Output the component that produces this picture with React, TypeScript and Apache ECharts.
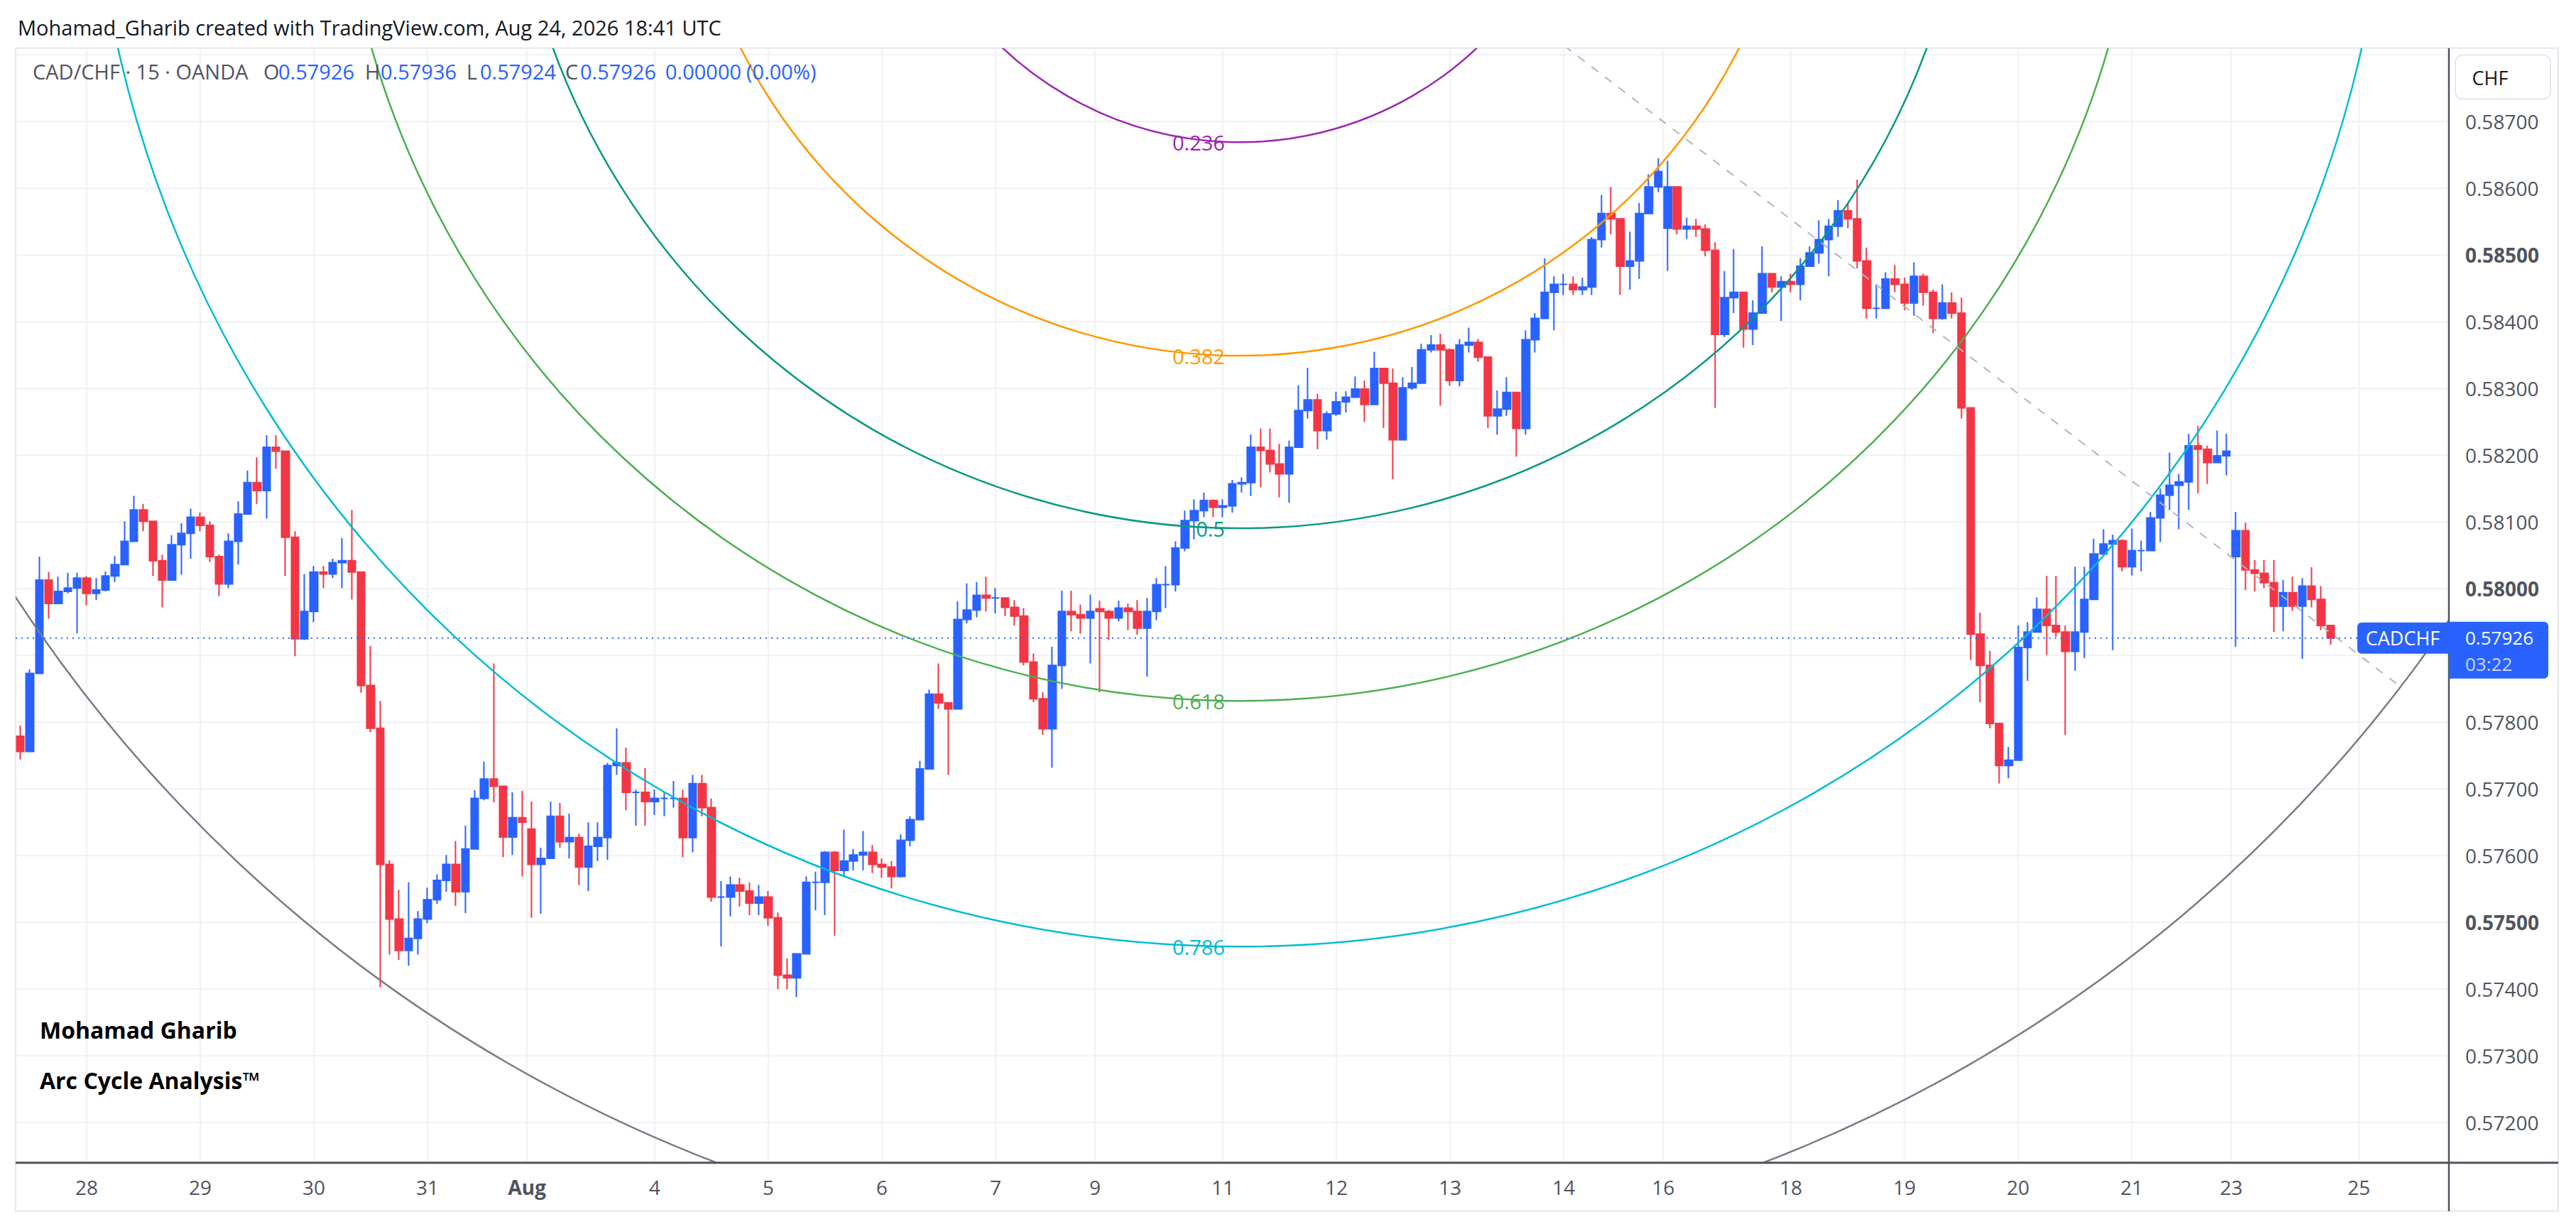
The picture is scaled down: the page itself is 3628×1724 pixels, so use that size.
import React, { useEffect, useRef } from "react";
import * as echarts from "echarts";

const WIDTH = 3628;
const HEIGHT = 1724;
const FONT = '"Open Sans", "Noto Sans", sans-serif';
const UP = "#2962ff";
const DOWN = "#f23645";
const AXIS_TEXT = "#50535e";
const GRID_COLOR = "#f0f1f4";

// 2-hour candles, each [high, low, close]
const weekOfJul27: number[][] = [
  [0.57795, 0.57744, 0.57756], [0.57879, 0.57777, 0.57873], [0.58048, 0.57961, 0.58013], [0.58025, 0.57955, 0.57978],
  [0.58018, 0.57984, 0.57996], [0.58024, 0.57993, 0.58001], [0.58024, 0.57933, 0.58016], [0.58019, 0.57975, 0.57993],
  [0.58016, 0.57983, 0.57998], [0.58026, 0.57996, 0.58019], [0.58049, 0.5801, 0.58036], [0.58101, 0.58042, 0.58071],
  [0.58139, 0.58092, 0.58118], [0.58127, 0.58086, 0.58101], [0.58101, 0.58019, 0.58042], [0.58051, 0.57972, 0.58013],
  [0.5808, 0.58016, 0.58066], [0.58098, 0.58021, 0.58083], [0.5812, 0.58045, 0.58107], [0.58114, 0.58086, 0.58095],
  [0.58101, 0.5804, 0.58048], [0.58051, 0.57989, 0.58007], [0.58083, 0.58001, 0.58071], [0.58131, 0.58036, 0.58112],
  [0.58177, 0.58112, 0.58159], [0.58197, 0.58127, 0.58147], [0.5823, 0.58105, 0.58212], [0.5823, 0.5818, 0.58206],
  [0.58206, 0.58019, 0.58077], [0.58086, 0.57899, 0.57925], [0.58022, 0.57923, 0.57966], [0.58034, 0.5795, 0.58025],
  [0.58034, 0.58001, 0.58022], [0.58045, 0.58016, 0.58039], [0.58076, 0.58001, 0.58042], [0.58118, 0.57984, 0.58025],
  [0.58025, 0.57844, 0.57855], [0.57914, 0.57785, 0.57791], [0.57832, 0.57403, 0.57587], [0.57593, 0.57452, 0.57505],
  [0.57549, 0.57444, 0.57458], [0.5756, 0.57435, 0.57476], [0.57517, 0.57452, 0.57505], [0.57552, 0.57499, 0.57534],
  [0.57572, 0.57528, 0.57563], [0.57601, 0.57546, 0.57587], [0.57622, 0.57525, 0.57546], [0.57645, 0.57514, 0.5761],
  [0.57698, 0.5761, 0.57686], [0.57741, 0.57683, 0.57715], [0.57888, 0.5768, 0.57704], [0.57704, 0.57598, 0.57628],
  [0.57695, 0.57601, 0.57657], [0.57697, 0.57569, 0.5765],
];

const weekOfAug3: number[][] = [
  [0.57681, 0.57507, 0.57587], [0.57612, 0.57513, 0.57596], [0.57681, 0.57605, 0.57659], [0.57679, 0.57612, 0.57621],
  [0.57663, 0.57596, 0.57627], [0.57633, 0.57556, 0.57583], [0.5765, 0.57547, 0.57614], [0.5765, 0.57592, 0.57627],
  [0.57739, 0.57594, 0.57735], [0.57791, 0.57721, 0.57739], [0.57762, 0.57668, 0.57695], [0.57699, 0.57645, 0.57695],
  [0.57731, 0.57645, 0.57681], [0.57699, 0.57661, 0.57686], [0.57695, 0.57659, 0.57686], [0.57712, 0.57672, 0.57686],
  [0.57699, 0.57598, 0.57627], [0.57721, 0.57605, 0.57708], [0.57721, 0.57659, 0.57672], [0.57686, 0.57531, 0.57538],
  [0.57562, 0.57464, 0.57538], [0.57569, 0.57509, 0.57556], [0.57567, 0.57524, 0.57547], [0.5756, 0.57511, 0.57529],
  [0.57556, 0.57511, 0.57538], [0.57547, 0.57495, 0.57507], [0.57515, 0.574, 0.57421], [0.57446, 0.574, 0.57417],
  [0.57453, 0.57388, 0.57453], [0.57569, 0.57453, 0.5756], [0.57576, 0.57518, 0.5756], [0.57607, 0.57511, 0.57605],
  [0.57607, 0.5748, 0.57578], [0.57639, 0.57569, 0.57592], [0.5761, 0.57578, 0.57601], [0.57637, 0.57578, 0.57605],
  [0.57616, 0.57574, 0.57587], [0.57596, 0.57567, 0.57583], [0.57592, 0.57551, 0.57569], [0.57632, 0.57567, 0.57623],
  [0.57659, 0.57614, 0.57654], [0.57742, 0.57663, 0.5773], [0.57849, 0.57739, 0.57842], [0.57888, 0.5782, 0.57829],
  [0.57824, 0.57721, 0.5782], [0.57981, 0.5782, 0.57954], [0.58008, 0.57948, 0.57968], [0.5801, 0.57957, 0.5799],
  [0.58018, 0.57966, 0.57986], [0.58001, 0.57963, 0.57986], [0.57986, 0.57959, 0.57972], [0.57983, 0.57945, 0.57959],
  [0.57971, 0.57885, 0.5789], [0.57903, 0.5783, 0.57835], [0.57845, 0.57781, 0.5779], [0.57913, 0.57732, 0.57885],
  [0.57997, 0.5785, 0.57966], [0.57997, 0.57936, 0.57961], [0.57976, 0.57933, 0.57956], [0.57991, 0.57888, 0.57966],
];

const weekOfAug10: number[][] = [
  [0.57982, 0.57845, 0.57966], [0.57968, 0.57923, 0.57956], [0.57982, 0.57951, 0.57971], [0.57978, 0.57938, 0.57966],
  [0.57983, 0.57931, 0.57941], [0.57986, 0.57868, 0.57966], [0.58016, 0.57953, 0.58006], [0.58034, 0.57971, 0.58006],
  [0.58071, 0.57996, 0.58061], [0.58117, 0.58056, 0.58102], [0.58134, 0.58074, 0.58117], [0.58144, 0.58107, 0.58132],
  [0.58134, 0.58107, 0.58122], [0.58134, 0.58107, 0.58124], [0.58163, 0.58114, 0.58157], [0.58167, 0.58144, 0.58159],
  [0.58231, 0.58139, 0.58212], [0.5824, 0.58152, 0.58207], [0.5824, 0.58174, 0.58187], [0.58217, 0.58137, 0.58172],
  [0.58222, 0.58129, 0.58212], [0.58305, 0.58222, 0.58267], [0.58331, 0.58255, 0.58283], [0.58292, 0.58209, 0.58237],
  [0.58266, 0.58223, 0.58262], [0.58295, 0.58259, 0.5828], [0.58296, 0.58264, 0.58287], [0.58318, 0.58291, 0.58299],
  [0.58312, 0.5825, 0.58276], [0.58355, 0.58312, 0.5833], [0.5833, 0.58241, 0.58308], [0.5833, 0.58164, 0.58223],
  [0.58317, 0.5823, 0.58301], [0.58332, 0.58298, 0.58308], [0.58367, 0.58312, 0.58358], [0.5838, 0.58354, 0.58365],
  [0.58382, 0.58274, 0.58358], [0.5836, 0.58304, 0.58312], [0.58374, 0.58303, 0.58365], [0.58391, 0.58354, 0.58369],
  [0.58374, 0.5834, 0.58347], [0.58333, 0.58241, 0.58259], [0.58297, 0.58231, 0.58269], [0.58317, 0.58259, 0.58294],
  [0.58287, 0.58198, 0.5824], [0.58387, 0.58231, 0.58373], [0.58413, 0.58354, 0.58405], [0.58495, 0.58409, 0.58444],
  [0.58468, 0.58387, 0.58456], [0.58472, 0.5844, 0.58456], [0.58468, 0.5844, 0.58448], [0.58466, 0.5844, 0.58452],
  [0.58527, 0.5844, 0.58523], [0.5859, 0.58511, 0.58562], [0.58602, 0.58531, 0.58554], [0.58543, 0.5844, 0.58483],
  [0.58535, 0.58448, 0.58491], [0.58578, 0.58464, 0.58562], [0.58621, 0.58574, 0.58602], [0.58645, 0.58594, 0.58625],
];

const weekOfAug17: number[][] = [
  [0.58641, 0.58476, 0.58602], [0.58598, 0.58531, 0.58539], [0.58556, 0.58524, 0.58543], [0.58554, 0.58527, 0.58539],
  [0.58546, 0.58498, 0.58507], [0.58519, 0.58271, 0.58381], [0.58476, 0.58377, 0.58436], [0.58509, 0.58413, 0.58444],
  [0.5844, 0.58361, 0.58389], [0.58432, 0.58365, 0.58413], [0.58513, 0.5842, 0.58472], [0.58472, 0.58444, 0.58452],
  [0.58468, 0.58401, 0.5846], [0.58472, 0.58444, 0.58456], [0.58495, 0.58432, 0.58483], [0.58513, 0.58487, 0.58503],
  [0.58552, 0.58487, 0.58523], [0.58554, 0.58468, 0.58543], [0.58582, 0.58527, 0.58566], [0.58578, 0.5854, 0.58554],
  [0.58613, 0.5848, 0.58491], [0.58511, 0.58405, 0.5842], [0.58456, 0.58405, 0.5842], [0.58474, 0.58428, 0.58464],
  [0.58485, 0.58444, 0.58456], [0.58466, 0.58417, 0.58428], [0.58489, 0.58409, 0.58468], [0.58472, 0.58424, 0.58444],
  [0.58448, 0.58383, 0.58405], [0.58456, 0.58403, 0.58428], [0.58444, 0.58405, 0.58413], [0.58436, 0.58255, 0.58271],
  [0.58271, 0.57893, 0.57932], [0.57964, 0.5783, 0.57885], [0.57907, 0.57791, 0.57798], [0.57791, 0.57708, 0.57735],
  [0.57763, 0.57716, 0.57743], [0.57945, 0.5775, 0.57912], [0.5795, 0.57862, 0.57935], [0.57987, 0.57935, 0.57969],
  [0.58019, 0.57901, 0.57945], [0.58019, 0.57928, 0.57935], [0.57945, 0.57781, 0.57906], [0.58033, 0.57877, 0.57935],
  [0.58033, 0.57896, 0.57984], [0.58075, 0.57994, 0.58052], [0.58089, 0.58055, 0.58067], [0.58081, 0.57908, 0.58072],
  [0.58074, 0.58026, 0.58033], [0.5809, 0.5802, 0.58057], [0.58072, 0.58026, 0.58057], [0.58115, 0.58082, 0.58106],
  [0.5815, 0.5807, 0.5814], [0.58204, 0.58118, 0.58155], [0.58172, 0.58089, 0.5816], [0.58232, 0.58118, 0.58214],
  [0.58244, 0.58143, 0.58209], [0.58214, 0.58157, 0.58189], [0.58237, 0.58189, 0.58199], [0.58232, 0.5817, 0.58206],
];

const weekOfAug24: number[][] = [
  [0.58115, 0.57913, 0.58087], [0.58099, 0.57998, 0.58028], [0.58043, 0.57996, 0.58023], [0.58043, 0.58001, 0.58009],
  [0.58043, 0.57935, 0.57974], [0.58013, 0.57936, 0.57994], [0.58018, 0.57967, 0.57974], [0.58016, 0.57895, 0.58004],
  [0.58032, 0.57972, 0.57984], [0.58004, 0.57938, 0.57945], [0.57943, 0.57916, 0.57926],
];

const firstOpen = 0.57779;
const sessionOpens: [string, number][] = [
  ["08-02 21:00", 0.5764],
  ["08-09 21:00", 0.5797],
  ["08-16 21:00", 0.5854],
  ["08-23 21:00", 0.58048],
];
const futureSlots = 12;

// grid lines every 0.001; labels hidden where the reference's price tag / currency box covers them
const priceGridLines = [0.572, 0.573, 0.574, 0.575, 0.576, 0.577, 0.578, 0.579, 0.58, 0.581, 0.582, 0.583, 0.584, 0.585, 0.586, 0.587, 0.588];
const priceLabels = [0.572, 0.573, 0.574, 0.575, 0.576, 0.577, 0.578, 0.58, 0.581, 0.582, 0.583, 0.584, 0.585, 0.586, 0.587];
const boldPrices = [0.575, 0.58, 0.585];
const Y_MIN = 0.5714;
const Y_MAX = 0.5881;

const xLabels: [string, string][] = [
  ["07-27 23:00", "28"], ["07-28 23:00", "29"], ["07-29 23:00", "30"], ["07-30 23:00", "31"],
  ["08-02 21:00", "Aug"], ["08-03 23:00", "4"], ["08-04 23:00", "5"], ["08-05 23:00", "6"], ["08-06 23:00", "7"],
  ["08-09 21:00", "9"], ["08-10 23:00", "11"], ["08-11 23:00", "12"], ["08-12 23:00", "13"], ["08-13 23:00", "14"],
  ["08-16 21:00", "16"], ["08-17 23:00", "18"], ["08-18 23:00", "19"], ["08-19 23:00", "20"], ["08-20 23:00", "21"],
  ["08-23 21:00", "23"], ["08-24 23:00", "25"],
];
const boldXLabels = ["Aug"];

const fibLevels = [0.236, 0.382, 0.5, 0.618, 0.786, 1];
const fibColors = ["#9c27b0", "#ff9800", "#089981", "#4caf50", "#00bcd4", "#787b86"];
const arcCenter: [number, number] = [128.8, 0.59186];
const arcEdge: [number, number] = [251.4, 0.57853];

const titleText = "Mohamad_Gharib created with TradingView.com, Aug 24, 2026 18:41 UTC";
const symbolText = "CAD/CHF · 15 · OANDA";
const ohlcLetters = ["O", "H", "L", "C"];
const ohlcValues = ["0.57926", "0.57936", "0.57924", "0.57926"];
const changeTexts = ["0.00000", "(0.00%)"];
const symbolName = "CADCHF";
const countdown = "03:22";
const currencyText = "CHF";
const authorLines = ["Mohamad Gharib", "Arc Cycle Analysis™"];

function pad(n: number) {
  return n < 10 ? "0" + n : String(n);
}

function buildCategories(count: number): string[] {
  const out: string[] = [];
  let t = Date.UTC(2026, 6, 27, 9, 0);
  while (out.length < count) {
    const d = new Date(t);
    out.push(`${pad(d.getUTCMonth() + 1)}-${pad(d.getUTCDate())} ${pad(d.getUTCHours())}:00`);
    t += 2 * 3600e3;
    const n = new Date(t);
    if (n.getUTCDay() === 5 && n.getUTCHours() >= 21) t += 48 * 3600e3;
  }
  return out;
}

const allHLC = [...weekOfJul27, ...weekOfAug3, ...weekOfAug10, ...weekOfAug17, ...weekOfAug24];
const categories = buildCategories(allHLC.length + futureSlots);
const openMap = new Map(sessionOpens);
const candleData = allHLC.map(([h, l, c], i) => {
  const o = i === 0 ? firstOpen : openMap.get(categories[i]) ?? allHLC[i - 1][2];
  return [o, c, Math.min(l, o, c), Math.max(h, o, c)];
});
const lastClose = allHLC[allHLC.length - 1][2];
const labelMap = new Map(xLabels);

function toPx(api: any, idx: number, price: number): number[] {
  const i0 = Math.floor(idx);
  const f = idx - i0;
  const p0 = api.coord([i0, price]);
  const p1 = api.coord([i0 + 1, price]);
  return [p0[0] + (p1[0] - p0[0]) * f, p0[1]];
}

function txt(x: number, y: number, text: string, color: string, size: number, opts: any = {}) {
  const align = opts.align || "left";
  return {
    type: "text",
    x,
    y,
    z: opts.z ?? 50,
    silent: true,
    style: {
      text,
      fill: color,
      fontSize: size,
      fontFamily: FONT,
      fontWeight: opts.bold ? "bold" : "normal",
      lineHeight: opts.lineHeight ?? Math.round(size * 1.2),
      align,
      textAlign: align,
      verticalAlign: "middle",
      textVerticalAlign: "middle",
    },
  };
}

export default function App() {
  const ref = useRef<HTMLDivElement>(null);
  useEffect(() => {
    if (!ref.current) return;
    const chart = echarts.init(ref.current, undefined, { renderer: "svg", width: WIDTH, height: HEIGHT });

    const gridSeries = {
      type: "custom",
      z: 1,
      clip: true,
      silent: true,
      data: [[0, 0.58]],
      renderItem: (params: any, api: any) => {
        if (params.dataIndex !== 0) return null;
        const cs = params.coordSys;
        const children: any[] = [];
        priceGridLines.forEach((p) => {
          const y = api.coord([0, p])[1];
          children.push({ type: "line", shape: { x1: cs.x, y1: y, x2: cs.x + cs.width, y2: y }, style: { stroke: GRID_COLOR, lineWidth: 2 } });
        });
        xLabels.forEach(([cat]) => {
          const idx = categories.indexOf(cat);
          const off = cat.endsWith("21:00") ? -0.5 : 0;
          const x = toPx(api, idx + off, 0.58)[0];
          children.push({ type: "line", shape: { x1: x, y1: cs.y, x2: x, y2: cs.y + cs.height }, style: { stroke: GRID_COLOR, lineWidth: 2 } });
        });
        return { type: "group", children };
      },
    };

    const arcSeries = {
      type: "custom",
      z: 3,
      clip: true,
      silent: true,
      data: [[0, 0.58]],
      renderItem: (params: any, api: any) => {
        if (params.dataIndex !== 0) return null;
        const cs = params.coordSys;
        const A = toPx(api, arcCenter[0], arcCenter[1]);
        const B = toPx(api, arcEdge[0], arcEdge[1]);
        const R = Math.hypot(B[0] - A[0], B[1] - A[1]);
        const children: any[] = [];
        fibLevels.forEach((lv, k) => {
          children.push({
            type: "circle",
            shape: { cx: A[0], cy: A[1], r: R * lv },
            style: { fill: "none", stroke: fibColors[k], lineWidth: 2.5 },
          });
          const ly = A[1] + R * lv;
          if (ly < cs.y + cs.height - 20) {
            children.push({
              type: "text",
              style: {
                text: String(lv),
                x: A[0] - 21,
                y: ly,
                fill: fibColors[k],
                fontSize: 29,
                fontFamily: FONT,
                align: "right",
                verticalAlign: "middle",
              },
            });
          }
        });
        children.push({
          type: "line",
          shape: { x1: A[0], y1: A[1], x2: B[0], y2: B[1] },
          style: { stroke: "#b2b5be", lineWidth: 2, lineDash: [12, 12] },
        });
        return { type: "group", children };
      },
    };

    const option: any = {
      animation: false,
      backgroundColor: "#ffffff",
      grid: { left: 22, right: 179, top: 67.7, bottom: 86.3, containLabel: false },
      xAxis: {
        type: "category",
        data: categories,
        boundaryGap: true,
        axisLine: { show: false },
        axisTick: { show: false },
        splitLine: { show: false },
        axisLabel: {
          interval: (_i: number, v: string) => labelMap.has(v),
          formatter: (v: string) => {
            const t = labelMap.get(v) ?? "";
            const sunday = v.endsWith("21:00");
            const bold = boldXLabels.includes(t);
            const key = (bold ? "b" : "n") + (sunday ? "s" : "");
            return `{${key}|${t}}`;
          },
          margin: 20,
          color: AXIS_TEXT,
          fontSize: 28,
          fontFamily: FONT,
          rich: {
            n: { fontSize: 28, fontFamily: FONT, color: AXIS_TEXT },
            ns: { fontSize: 28, fontFamily: FONT, color: AXIS_TEXT, padding: [0, 13, 0, 0] },
            b: { fontSize: 28, fontFamily: FONT, color: AXIS_TEXT, fontWeight: "bold" },
            bs: { fontSize: 28, fontFamily: FONT, color: AXIS_TEXT, fontWeight: "bold", padding: [0, 13, 0, 0] },
          },
        },
      },
      yAxis: {
        type: "value",
        position: "right",
        min: Y_MIN,
        max: Y_MAX,
        scale: true,
        axisLine: { show: false },
        axisTick: { show: false },
        splitLine: { show: false },
        axisLabel: {
          customValues: priceLabels,
          margin: 23,
          align: "left",
          color: AXIS_TEXT,
          fontSize: 28,
          fontFamily: FONT,
          formatter: (v: number) => {
            const s = v.toFixed(5);
            return boldPrices.some((b) => Math.abs(b - v) < 1e-9) ? `{b|${s}}` : `{n|${s}}`;
          },
          rich: {
            n: { fontSize: 28, fontFamily: FONT, color: AXIS_TEXT },
            b: { fontSize: 28, fontFamily: FONT, color: AXIS_TEXT, fontWeight: "bold" },
          },
        },
      },
      series: [
        gridSeries,
        {
          type: "candlestick",
          z: 2,
          data: candleData,
          barWidth: 11,
          itemStyle: { color: UP, color0: DOWN, borderColor: UP, borderColor0: DOWN, borderWidth: 2 },
        },
        arcSeries,
      ],
    };
    chart.setOption(option);

    const yP = chart.convertToPixel({ yAxisIndex: 0 }, lastClose) as number;
    const axisX = 3449;
    const xAxisY = HEIGHT - 86.3;
    const legendY = 100;
    const graphic: any[] = [
      { type: "rect", z: 0, silent: true, shape: { x: 22, y: 67.7, width: 3581, height: 1638 }, style: { fill: "none", stroke: "#e6e8ee", lineWidth: 2 } },
      { type: "line", z: 40, silent: true, shape: { x1: 22, y1: xAxisY, x2: 3603, y2: xAxisY }, style: { stroke: "#50535e", lineWidth: 3 } },
      { type: "line", z: 40, silent: true, shape: { x1: axisX, y1: 67.7, x2: axisX, y2: 1706 }, style: { stroke: "#50535e", lineWidth: 2.5 } },
      { type: "line", z: 30, silent: true, shape: { x1: 22, y1: yP, x2: 3320, y2: yP }, style: { stroke: UP, lineWidth: 2, lineDash: [2, 6] } },
      txt(25, 38, titleText, "#131722", 29),
      txt(46, legendY, symbolText, AXIS_TEXT, 29),
      txt(371, legendY, ohlcLetters[0], AXIS_TEXT, 29),
      txt(392, legendY, ohlcValues[0], UP, 29),
      txt(514, legendY, ohlcLetters[1], AXIS_TEXT, 29),
      txt(536, legendY, ohlcValues[1], UP, 29),
      txt(657, legendY, ohlcLetters[2], AXIS_TEXT, 29),
      txt(676, legendY, ohlcValues[2], UP, 29),
      txt(796, legendY, ohlcLetters[3], AXIS_TEXT, 29),
      txt(817, legendY, ohlcValues[3], UP, 29),
      txt(937, legendY, changeTexts[0], UP, 29),
      txt(1051, legendY, changeTexts[1], UP, 29),
      { type: "rect", z: 45, silent: true, shape: { x: 3458, y: 77.5, width: 134, height: 62, r: 10 }, style: { fill: "#ffffff", stroke: "#e6e8ee", lineWidth: 2 } },
      txt(3507, 109, currencyText, "#131722", 27, { align: "center", z: 46 }),
      { type: "rect", z: 60, silent: true, shape: { x: axisX, y: yP - 23, width: 140, height: 80, r: [0, 6, 6, 0] }, style: { fill: UP } },
      { type: "rect", z: 60, silent: true, shape: { x: 3320, y: yP - 22, width: axisX - 3320, height: 44, r: [6, 0, 0, 6] }, style: { fill: UP } },
      txt(3472, yP - 1, lastClose.toFixed(5), "#ffffff", 26, { z: 61, lineHeight: 28 }),
      txt(3472, yP + 36, countdown, "#c9d7ff", 26, { z: 61, lineHeight: 28 }),
      txt(3384, yP, symbolName, "#ffffff", 27, { align: "center", z: 61, lineHeight: 30 }),
      txt(56, 1450, authorLines[0], "#000000", 32, { bold: true }),
      txt(56, 1521, authorLines[1], "#000000", 32, { bold: true }),
    ];
    chart.setOption({ graphic });

    return () => chart.dispose();
  }, []);

  return (
    <div style={{ position: "absolute", left: 0, top: 0, width: WIDTH, height: HEIGHT, background: "#ffffff" }}>
      <div ref={ref} style={{ width: WIDTH, height: HEIGHT }} />
    </div>
  );
}
